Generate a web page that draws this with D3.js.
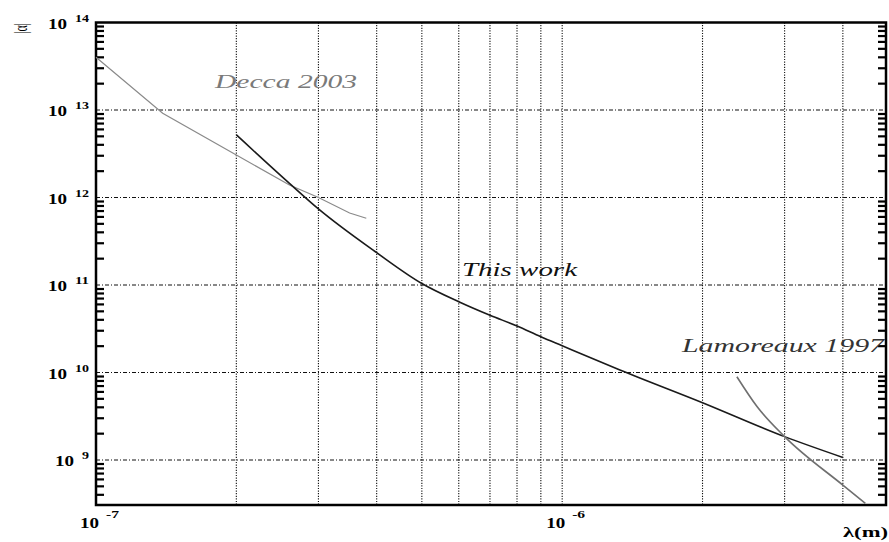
<!DOCTYPE html>
<html>
<head>
<meta charset="utf-8">
<script src="https://cdn.jsdelivr.net/npm/d3@7"></script>
<style>
  body { margin: 0; background: #fff; }
  svg { display: block; }
  .curve { fill: none; }
  text { font-family: 'Liberation Serif', 'DejaVu Serif', serif; }
</style>
</head>
<body>
<svg id="chart"></svg>
<script>
// [lambda (m), |alpha|]
const deccaData = [
    [1.0e-7, 4.0e13], [1.39e-7, 9.2e12], [2.0e-7, 3.06e12], [2.6e-7, 1.39e12],
    [3.0e-7, 1.0e12], [3.5e-7, 6.65e11], [3.8e-7, 5.8e11]
];
const thisWorkData = [
    [2.0e-7, 5.2e12], [2.6e-7, 1.45e12], [3.0e-7, 7.4e11], [4.0e-7, 2.34e11],
    [5.0e-7, 1.04e11], [6.0e-7, 6.44e10], [7.0e-7, 4.51e10], [8.0e-7, 3.4e10],
    [9.0e-7, 2.56e10], [1.0e-6, 2.02e10], [1.33e-6, 1.07e10], [2.0e-6, 4.52e9],
    [3.0e-6, 1.85e9], [4.0e-6, 1.07e9]
];
const lamoreauxData = [
    [2.37e-6, 8.95e9], [2.62e-6, 4.06e9], [3.0e-6, 1.85e9], [4.0e-6, 5.17e8],
    [4.47e-6, 3.2e8]
];

const xDomain = [1e-7, 4.95e-6];
const yDomain = [3.06e8, 1e14];
const xGrid = [2e-7, 3e-7, 4e-7, 5e-7, 6e-7, 7e-7, 8e-7, 9e-7, 1e-6, 2e-6, 3e-6, 4e-6];
const yGrid = [1e9, 1e10, 1e11, 1e12, 1e13];
const yMinorMult = [2, 3, 4, 5, 6, 7, 8, 9];
const xLabels = [{v: 1e-7, exp: '-7'}, {v: 1e-6, exp: '-6'}];
const yLabels = [{v: 1e14, exp: '14'}, {v: 1e13, exp: '13'}, {v: 1e12, exp: '12'},
                 {v: 1e11, exp: '11'}, {v: 1e10, exp: '10'}, {v: 1e9, exp: '9'}];

const width = 889, height = 542;
const plot = {left: 96, right: 886, top: 22.5, bottom: 505};

const svg = d3.select('#chart')
    .attr('width', width)
    .attr('height', height);

const x = d3.scaleLog().domain(xDomain).range([plot.left, plot.right]);
const y = d3.scaleLog().domain(yDomain).range([plot.bottom, plot.top]);

// minor ticks 2..9 per decade on the y axis
const yMinor = [];
[1e8, 1e9, 1e10, 1e11, 1e12, 1e13].forEach(dec => {
    yMinorMult.forEach(m => {
        if (m * dec > yDomain[0] && m * dec < yDomain[1]) yMinor.push(m * dec);
    });
});

// grid
svg.append('g').selectAll('line')
    .data(xGrid)
    .enter().append('line')
    .attr('x1', d => x(d)).attr('x2', d => x(d))
    .attr('y1', plot.top).attr('y2', plot.bottom)
    .attr('stroke', '#111')
    .attr('stroke-width', 1.1)
    .attr('stroke-dasharray', '1.2,1.4');

svg.append('g').selectAll('line')
    .data(yGrid)
    .enter().append('line')
    .attr('x1', plot.left).attr('x2', plot.right)
    .attr('y1', d => y(d)).attr('y2', d => y(d))
    .attr('stroke', '#111')
    .attr('stroke-width', 1)
    .attr('stroke-dasharray', '4,2,1,2');

// frame
svg.append('rect')
    .attr('x', plot.left).attr('y', plot.top)
    .attr('width', plot.right - plot.left).attr('height', plot.bottom - plot.top)
    .attr('fill', 'none')
    .attr('stroke', '#000')
    .attr('stroke-width', 2.5);

// inward minor ticks on the left and right sides
svg.append('g').selectAll('line')
    .data(yMinor)
    .enter().append('line')
    .attr('x1', plot.left).attr('x2', plot.left + 8)
    .attr('y1', d => y(d)).attr('y2', d => y(d))
    .attr('stroke', '#000')
    .attr('stroke-width', 2.2);

svg.append('g').selectAll('line')
    .data(yMinor)
    .enter().append('line')
    .attr('x1', plot.right).attr('x2', plot.right - 8)
    .attr('y1', d => y(d)).attr('y2', d => y(d))
    .attr('stroke', '#000')
    .attr('stroke-width', 2.2);

// curves
const line = d3.line()
    .x(d => x(d[0]))
    .y(d => y(d[1]))
    .curve(d3.curveMonotoneX);

svg.append('path').datum(deccaData)
    .attr('class', 'curve')
    .attr('d', d3.line().x(d => x(d[0])).y(d => y(d[1])))
    .attr('stroke', '#8a8a8a')
    .attr('stroke-width', 1.2);

svg.append('path').datum(thisWorkData)
    .attr('class', 'curve')
    .attr('d', line)
    .attr('stroke', '#1a1a1a')
    .attr('stroke-width', 1.6);

svg.append('path').datum(lamoreauxData)
    .attr('class', 'curve')
    .attr('d', line)
    .attr('stroke', '#6f6f6f')
    .attr('stroke-width', 1.6);

// tick labels: "10" with a superscript exponent
yLabels.forEach(d => {
    let supW = 7 * d.exp.length;
    let supX = 89 - supW;
    let yy = y(d.v);
    svg.append('text')
        .attr('x', supX - 8 - 19).attr('y', yy + 6)
        .attr('textLength', 19).attr('lengthAdjust', 'spacingAndGlyphs')
        .attr('font-weight', 'bold').attr('font-size', 14)
        .text('10');
    svg.append('text')
        .attr('x', supX).attr('y', yy - 1)
        .attr('textLength', supW).attr('lengthAdjust', 'spacingAndGlyphs')
        .attr('font-weight', 'bold').attr('font-size', 10)
        .text(d.exp);
});

xLabels.forEach(d => {
    let xx = x(d.v);
    svg.append('text')
        .attr('x', xx - 16).attr('y', 528)
        .attr('textLength', 19).attr('lengthAdjust', 'spacingAndGlyphs')
        .attr('font-weight', 'bold').attr('font-size', 14)
        .text('10');
    svg.append('text')
        .attr('x', xx + 10).attr('y', 518)
        .attr('textLength', 13).attr('lengthAdjust', 'spacingAndGlyphs')
        .attr('font-weight', 'bold').attr('font-size', 10)
        .text(d.exp);
});

// axis titles
svg.append('text')
    .attr('x', 843).attr('y', 537)
    .attr('textLength', 45).attr('lengthAdjust', 'spacingAndGlyphs')
    .attr('font-weight', 'bold').attr('font-size', 15)
    .text('λ(m)');

svg.append('text')
    .attr('transform', 'translate(27,34) rotate(-90)')
    .attr('textLength', 11).attr('lengthAdjust', 'spacingAndGlyphs')
    .attr('font-size', 18)
    .text('|α|');

// series labels
const seriesLabels = [
    {text: 'Decca 2003', x: 215, y: 88, w: 142, color: '#7a7a7a'},
    {text: 'This work', x: 462, y: 276, w: 115, color: '#111'},
    {text: 'Lamoreaux 1997', x: 682, y: 352, w: 202, color: '#333'}
];
svg.append('g').selectAll('text')
    .data(seriesLabels)
    .enter().append('text')
    .attr('x', d => d.x).attr('y', d => d.y)
    .attr('textLength', d => d.w).attr('lengthAdjust', 'spacingAndGlyphs')
    .attr('font-style', 'italic').attr('font-size', 18)
    .attr('fill', d => d.color)
    .text(d => d.text);
</script>
</body>
</html>
